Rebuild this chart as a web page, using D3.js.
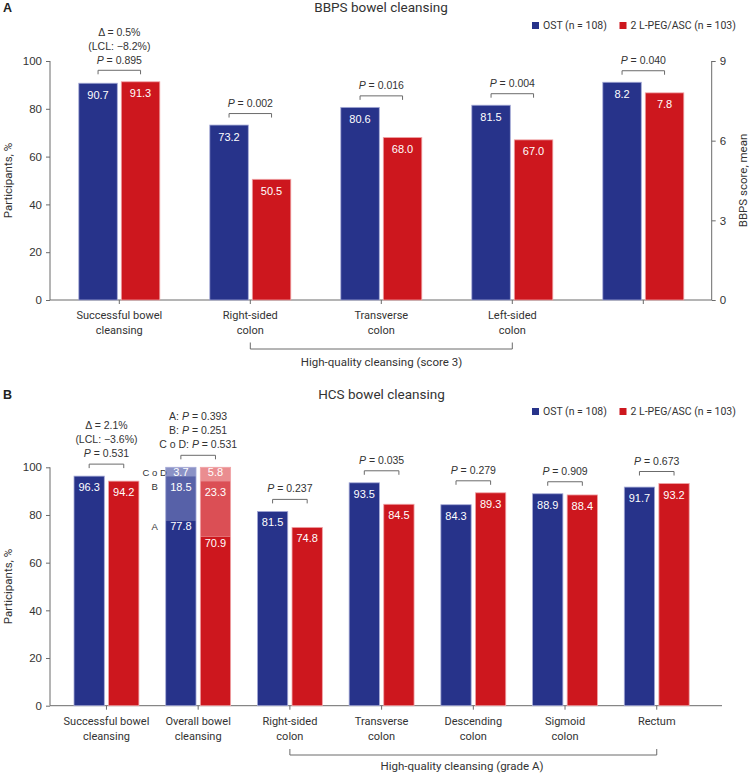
<!DOCTYPE html>
<html>
<head>
<meta charset="utf-8">
<script src="https://cdn.jsdelivr.net/npm/d3@7"></script>
<style>
  body { margin: 0; background: #fff; }
  svg { display: block; }
  .num { font-family: "Liberation Sans", Arial, sans-serif; }
  .lbl { font-family: Roboto, "Noto Sans", sans-serif; }
</style>
</head>
<body>
<svg id="chart" width="749" height="774"></svg>
<script>
// ---------- DATA ----------
const series = ["OST (n = 108)", "2 L-PEG/ASC (n = 103)"];
const seriesB = ["OST (n = 108)", "2 L-PEG/ASC  (n = 103)"];

// Panel A (BBPS)
const catsA = ["Successful bowel|cleansing", "Right-sided|colon", "Transverse|colon", "Left-sided|colon", ""];
const ostA = [90.7, 73.2, 80.6, 81.5, 8.2];
const pegA = [91.3, 50.5, 68.0, 67.0, 7.8];
const pA = [["Δ = 0.5%", "(LCL: −8.2%)", "P = 0.895"], ["P = 0.002"], ["P = 0.016"], ["P = 0.004"], ["P = 0.040"]];
const ticksLeftA = [0, 20, 40, 60, 80, 100];
const ticksRightA = [0, 3, 6, 9];
const groupLabelA = "High-quality cleansing (score 3)";

// Panel B (HCS)
const catsB = ["Successful bowel|cleansing", "Overall bowel|cleansing", "Right-sided|colon", "Transverse|colon", "Descending|colon", "Sigmoid|colon", "Rectum"];
const ostB = [96.3, null, 81.5, 93.5, 84.3, 88.9, 91.7];
const pegB = [94.2, null, 74.8, 84.5, 89.3, 88.4, 93.2];
const gradeKeys = ["A", "B", "C o D"];
const overallOST = [77.8, 18.5, 3.7];
const overallPEG = [70.9, 23.3, 5.8];
const pB = [["Δ = 2.1%", "(LCL: −3.6%)", "P = 0.531"], ["A: P = 0.393", "B: P = 0.251", "C o D: P = 0.531"], ["P = 0.237"], ["P = 0.035"], ["P = 0.279"], ["P = 0.909"], ["P = 0.673"]];
const ticksB = [0, 20, 40, 60, 80, 100];
const groupLabelB = "High-quality cleansing (grade A)";

// ---------- STYLE ----------
const blue = "#27338a", red = "#cd171e";
const blueShades = ["#27338a", "#5761a8", "#8b92c6"];
const redShades = ["#cd171e", "#db4f55", "#ea8d90"];
const blueStroke = "#a5aad6", redStroke = "#f0a3a6";
const axisCol = "#6b6b6b", textCol = "#333";

const svg = d3.select("#chart");

function pLine(g, x, y, txt) {
  // render italic P
  const t = g.append("text").attr("class", "num").attr("x", x).attr("y", y)
    .attr("text-anchor", "middle").attr("font-size", 10.5).attr("fill", textCol);
  const idx = txt.indexOf("P =");
  if (idx >= 0) {
    if (idx > 0) t.append("tspan").text(txt.slice(0, idx));
    t.append("tspan").attr("font-style", "italic").text("P");
    t.append("tspan").text(txt.slice(idx + 1));
  } else {
    t.text(txt);
  }
}

function bracketDown(g, x1, x2, y) {
  g.append("path").attr("d", `M${x1},${y + 4}V${y}H${x2}V${y + 4}`)
    .attr("fill", "none").attr("stroke", axisCol).attr("stroke-width", 1);
}

function catLabels(g, x0, cats, y1, y2) {
  cats.forEach(c => {
    if (!c) return;
    const parts = c.split("|");
    parts.forEach((p, i) => {
      g.append("text").attr("class", "lbl").attr("x", x0(c) + x0.bandwidth() / 2)
        .attr("y", i === 0 ? y1 : y2).attr("text-anchor", "middle")
        .attr("font-size", 11).attr("fill", textCol).text(p);
    });
  });
}

function legend(g, y, names) {
  const xs = [532, 619.5];
  names.forEach((n, i) => {
    g.append("rect").attr("x", xs[i]).attr("y", y - 3.5).attr("width", 7).attr("height", 7)
      .attr("fill", i === 0 ? blue : red);
    g.append("text").attr("class", "lbl").attr("x", xs[i] + 11).attr("y", y + 3.8)
      .attr("font-size", 10.5).attr("fill", textCol).text(n);
  });
}

// ================= PANEL A =================
(function () {
  const g = svg.append("g");
  const y0 = 300, y100 = 61;
  const yL = d3.scaleLinear().domain([0, 100]).range([y0, y100]);
  const yR = d3.scaleLinear().domain([0, 9]).range([y0, y100]);
  const x0 = d3.scaleBand().domain(catsA).range([53.8, 708.8]);
  const w = 38.5, gap = 4;
  const xi = d3.scaleBand().domain(series).range([-(w + gap / 2), w + gap / 2]).paddingInner(gap / (w + gap));
  const cx = c => x0(c) + x0.bandwidth() / 2;

  // panel letter + title
  g.append("text").attr("x", 3).attr("y", 12).attr("font-family", "Liberation Sans, Arial").attr("font-weight", "bold")
    .attr("font-size", 12.5).attr("fill", "#222").text("A");
  g.append("text").attr("class", "lbl").attr("x", 381).attr("y", 12).attr("text-anchor", "middle")
    .attr("font-size", 13.5).attr("fill", textCol).text("BBPS bowel cleansing");
  legend(g, 25.5, series);

  // axes
  const axL = g.append("g").attr("transform", "translate(50,0)")
    .call(d3.axisLeft(yL).tickValues(ticksLeftA).tickSize(4).tickPadding(4));
  const axR = g.append("g").attr("transform", "translate(711.7,0)")
    .call(d3.axisRight(yR).tickValues(ticksRightA).tickSize(4).tickPadding(4));
  const axX = g.append("g").attr("transform", `translate(0,${y0})`)
    .call(d3.axisBottom(x0).tickSize(4).tickFormat(""));
  [axL, axR, axX].forEach(a => {
    a.select(".domain").attr("stroke", axisCol).attr("d", null);
    a.selectAll(".tick line").attr("stroke", axisCol);
    a.selectAll(".tick text").attr("class", "num").attr("font-size", 11.5).attr("fill", textCol);
  });
  axL.select(".domain").attr("d", `M0,${y100}V${y0}`);
  axR.select(".domain").attr("d", `M0,${y100}V${y0}`);
  axX.select(".domain").attr("d", `M50,0H711.7`);

  g.append("text").attr("class", "lbl").attr("transform", `translate(12,${(y0 + y100) / 2}) rotate(-90)`)
    .attr("text-anchor", "middle").attr("font-size", 11.5).attr("fill", textCol).text("Participants, %");
  g.append("text").attr("class", "lbl").attr("transform", `translate(747,${(y0 + y100) / 2}) rotate(-90)`)
    .attr("text-anchor", "middle").attr("font-size", 11.5).attr("fill", textCol).text("BBPS score, mean");

  // bars
  catsA.forEach((c, i) => {
    const ys = i === 4 ? yR : yL;
    [[ostA[i], series[0], blue, blueStroke], [pegA[i], series[1], red, redStroke]].forEach(([v, s, col, st]) => {
      const x = cx(c) + xi(s);
      g.append("rect").attr("x", x).attr("y", ys(v)).attr("width", xi.bandwidth())
        .attr("height", y0 - ys(v)).attr("fill", col).attr("stroke", st).attr("stroke-width", 0.8);
      g.append("text").attr("class", "num").attr("x", x + xi.bandwidth() / 2).attr("y", ys(v) + 15.5)
        .attr("text-anchor", "middle").attr("font-size", 11).attr("fill", "#fff")
        .text(i === 4 ? d3.format(".1f")(v) : d3.format(".1f")(v));
    });
    const top = Math.min(ys(ostA[i]), ys(pegA[i]));
    const by = top - 11.5;
    bracketDown(g, cx(c) + xi(series[0]) + xi.bandwidth() / 2, cx(c) + xi(series[1]) + xi.bandwidth() / 2, by);
    const lines = pA[i];
    lines.forEach((t, k) => pLine(g, cx(c), by - 6.5 - (lines.length - 1 - k) * 14, t));
  });

  catLabels(g, x0, catsA, 319, 334);
  // group bracket
  const bx1 = cx(catsA[1]), bx2 = cx(catsA[3]);
  g.append("path").attr("d", `M${bx1},342.5V349H${bx2}V342.5`).attr("fill", "none").attr("stroke", axisCol);
  g.append("text").attr("class", "lbl").attr("x", 381.5).attr("y", 365.5).attr("text-anchor", "middle")
    .attr("font-size", 11.5).attr("fill", textCol).text(groupLabelA);
})();

// ================= PANEL B =================
(function () {
  const g = svg.append("g");
  const y0 = 705.7, y100 = 467.3;
  const y = d3.scaleLinear().domain([0, 100]).range([y0, y100]);
  const x0 = d3.scaleBand().domain(catsB).range([60.6, 702.6]);
  const w = 30.3, gap = 4.3;
  const xi = d3.scaleBand().domain(series).range([-(w + gap / 2), w + gap / 2]).paddingInner(gap / (w + gap));
  const cx = c => x0(c) + x0.bandwidth() / 2;

  g.append("text").attr("x", 3).attr("y", 398.5).attr("font-family", "Liberation Sans, Arial").attr("font-weight", "bold")
    .attr("font-size", 12.5).attr("fill", "#222").text("B");
  g.append("text").attr("class", "lbl").attr("x", 381.5).attr("y", 398.5).attr("text-anchor", "middle")
    .attr("font-size", 13.5).attr("fill", textCol).text("HCS bowel cleansing");
  legend(g, 411.5, seriesB);

  const axL = g.append("g").attr("transform", "translate(50,0)")
    .call(d3.axisLeft(y).tickValues(ticksB).tickSize(4).tickPadding(4));
  const axX = g.append("g").attr("transform", `translate(0,${y0})`)
    .call(d3.axisBottom(x0).tickSize(4).tickFormat(""));
  [axL, axX].forEach(a => {
    a.select(".domain").attr("stroke", axisCol);
    a.selectAll(".tick line").attr("stroke", axisCol);
    a.selectAll(".tick text").attr("class", "num").attr("font-size", 11.5).attr("fill", textCol);
  });
  axL.select(".domain").attr("d", `M0,${y100}V${y0}`);
  axX.select(".domain").attr("d", `M50,0H722`);

  g.append("text").attr("class", "lbl").attr("transform", `translate(12,${(y0 + y100) / 2}) rotate(-90)`)
    .attr("text-anchor", "middle").attr("font-size", 11.5).attr("fill", textCol).text("Participants, %");

  catsB.forEach((c, i) => {
    let top;
    if (i === 1) {
      // stacked
      const segOffsets = [6, 10.5, 5];
      [[overallOST, series[0], blueShades, blueStroke], [overallPEG, series[1], redShades, redStroke]].forEach(([vals, s, cols, st], si) => {
        const x = cx(c) + xi(s);
        let cum = 0;
        vals.forEach((v, k) => {
          const yTop = y(cum + v), yBot = y(cum);
          g.append("rect").attr("x", x).attr("y", yTop).attr("width", xi.bandwidth())
            .attr("height", yBot - yTop).attr("fill", cols[k]);
          g.append("text").attr("class", "num").attr("x", x + xi.bandwidth() / 2).attr("y", yTop + segOffsets[k] + 4)
            .attr("text-anchor", "middle").attr("font-size", 11).attr("fill", "#fff").text(d3.format(".1f")(v));
          if (si === 0) {
            g.append("text").attr("class", "num").attr("x", x - 11).attr("y", yTop + segOffsets[k] + 3.5)
              .attr("text-anchor", "middle").attr("font-size", 9.5).attr("fill", textCol).text(gradeKeys[k]);
          }
          cum += v;
        });
        g.append("rect").attr("x", x).attr("y", y(cum)).attr("width", xi.bandwidth())
          .attr("height", y0 - y(cum)).attr("fill", "none").attr("stroke", st).attr("stroke-width", 0.8);
      });
      top = y(d3.sum(overallOST));
    } else {
      [[ostB[i], series[0], blue, blueStroke], [pegB[i], series[1], red, redStroke]].forEach(([v, s, col, st]) => {
        const x = cx(c) + xi(s);
        g.append("rect").attr("x", x).attr("y", y(v)).attr("width", xi.bandwidth())
          .attr("height", y0 - y(v)).attr("fill", col).attr("stroke", st).attr("stroke-width", 0.8);
        g.append("text").attr("class", "num").attr("x", x + xi.bandwidth() / 2).attr("y", y(v) + 15)
          .attr("text-anchor", "middle").attr("font-size", 11).attr("fill", "#fff").text(d3.format(".1f")(v));
      });
      top = Math.min(y(ostB[i]), y(pegB[i]));
    }
    const by = top - 12;
    bracketDown(g, cx(c) + xi(series[0]) + xi.bandwidth() / 2, cx(c) + xi(series[1]) + xi.bandwidth() / 2, by);
    const lines = pB[i];
    lines.forEach((t, k) => pLine(g, cx(c), by - 7 - (lines.length - 1 - k) * 14.2, t));
  });

  catLabels(g, x0, catsB, 725, 740);
  const bx1 = cx(catsB[2]), bx2 = cx(catsB[6]);
  g.append("path").attr("d", `M${bx1},749V755H${bx2}V749`).attr("fill", "none").attr("stroke", axisCol);
  g.append("text").attr("class", "lbl").attr("x", 462).attr("y", 769.5).attr("text-anchor", "middle")
    .attr("font-size", 11.5).attr("fill", textCol).text(groupLabelB);
})();
</script>
</body>
</html>
